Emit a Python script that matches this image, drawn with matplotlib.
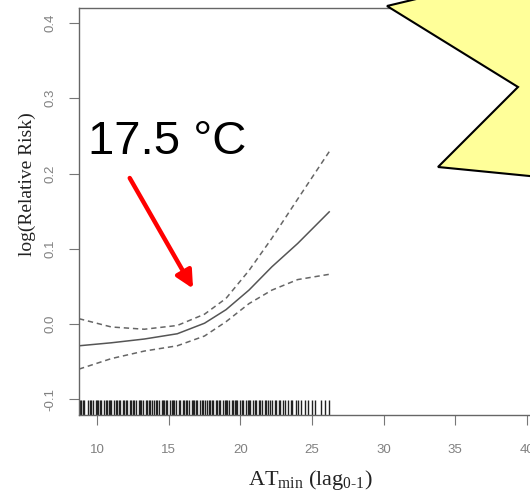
import matplotlib
matplotlib.use("Agg")
import matplotlib.pyplot as plt
from matplotlib.patches import Polygon

# ---- data ----
temp = [8.74, 11.0, 13.3, 15.6, 17.5, 19.0, 20.6, 22.2, 24.0, 26.2]
log_rr = [-0.029, -0.025, -0.020, -0.013, 0.001, 0.019, 0.045, 0.076, 0.107, 0.149]
upper = [0.007, -0.004, -0.007, -0.002, 0.013, 0.034, 0.071, 0.114, 0.166, 0.229]
lower = [-0.060, -0.046, -0.036, -0.029, -0.016, 0.003, 0.027, 0.045, 0.059, 0.066]

rug = [
    8.8, 8.9, 9.0, 9.1, 9.4, 9.5, 9.6, 9.7, 9.9, 10.0, 10.1, 10.2, 10.3, 10.5,
    10.6, 10.7, 10.8, 10.9, 11.0, 11.2, 11.3, 11.4, 11.5, 11.6, 11.8, 11.9,
    12.0, 12.1, 12.3, 12.4, 12.5, 12.6, 12.7, 12.9, 13.0, 13.1, 13.2, 13.4,
    13.5, 13.6, 13.7, 13.8, 14.0, 14.1, 14.2, 14.3, 14.5, 14.6, 14.7, 14.8,
    14.9, 15.1, 15.2, 15.3, 15.4, 15.5, 15.7, 15.8, 16.0, 16.1, 16.2, 16.3,
    16.4, 16.6, 16.7, 16.8, 16.9, 17.0, 17.2, 17.3, 17.4, 17.5, 17.7, 17.8,
    17.9, 18.0, 18.1, 18.3, 18.4, 18.5, 18.6, 18.8, 18.9, 19.0, 19.1, 19.2,
    19.4, 19.5, 19.6, 19.7, 19.8, 20.0, 20.1, 20.2, 20.4, 20.5, 20.6, 20.7,
    20.9, 21.0, 21.1, 21.3, 21.4, 21.5, 21.7, 21.8, 21.9, 22.1, 22.2, 22.4,
    22.5, 22.7, 22.8, 23.0, 23.1, 23.3, 23.5, 23.6, 23.9, 24.0, 24.2, 24.5,
    24.7, 25.0, 25.2, 25.6, 25.9, 26.2,
]

arrow_tail = (12.28, 0.194)
arrow_tip = (16.7, 0.047)
label_pos = (9.35, 0.226)

xticks = [10, 15, 20, 25, 30, 35, 40]
yticks = [-0.1, 0.0, 0.1, 0.2, 0.3, 0.4]

W, H = 530, 496
plt.rcParams["mathtext.fontset"] = "custom"
plt.rcParams["mathtext.rm"] = "Liberation Serif"
plt.rcParams["mathtext.it"] = "Liberation Serif"

fig = plt.figure(figsize=(W / 100, H / 100), dpi=100)
fig.patch.set_facecolor("white")

xlim = (8.74, 42.0)
ylim = (-0.121, 0.42)
px_per_x = 14.33
ax_w = (xlim[1] - xlim[0]) * px_per_x
ax = fig.add_axes([79 / W, (H - 415) / H, ax_w / W, 407 / H])
ax.set_xlim(*xlim)
ax.set_ylim(*ylim)

ax.plot(temp, log_rr, color="#555555", lw=1.1)
ax.plot(temp, upper, color="#666666", lw=1.1, ls=(0, (3.5, 2.5)))
ax.plot(temp, lower, color="#666666", lw=1.1, ls=(0, (3.5, 2.5)))

ax.vlines(rug, 0, 0.036, transform=ax.get_xaxis_transform(),
          color="#222222", lw=1.0)

ax.set_xticks(xticks)
ax.set_yticks(yticks)
ax.set_yticklabels([f"{v:.1f}" for v in yticks], rotation=90, va="center")
ax.tick_params(axis="both", direction="out", length=7, width=0.8,
               color="#777777", labelcolor="#808080", labelsize=9.5,
               labelfontfamily="Liberation Sans")
ax.tick_params(axis="x", pad=14)
ax.tick_params(axis="y", pad=9)
for side in ["left", "bottom", "top", "right"]:
    ax.spines[side].set_color("#666666")
    ax.spines[side].set_linewidth(1.0)

fig.text(27 / W, 1 - 184 / H, "log(Relative Risk)", rotation=90,
         ha="center", va="center", fontsize=14, family="Liberation Serif",
         color="#222222")
fig.text(310 / W, 1 - 485 / H, r"AT$_{\mathrm{min}}$ (lag$_{\text{0-1}}$)",
         ha="center", va="baseline", fontsize=16, family="Liberation Serif",
         color="#222222")

ax.annotate("", xy=arrow_tip, xytext=arrow_tail,
            arrowprops=dict(arrowstyle="-|>", color="#ff0000", lw=3.2,
                            mutation_scale=26, shrinkA=0, shrinkB=0))
ax.text(*label_pos, "17.5 \u00b0C", fontsize=34, family="Liberation Sans",
        color="black", va="baseline", ha="left")

# yellow callout shape, partly off the canvas
star_px = [(433, -5), (387, 6), (518, 87), (438, 167), (560, 179), (560, -5)]
star = Polygon([(x / W, 1 - y / H) for x, y in star_px], closed=True,
               transform=fig.transFigure, facecolor="#ffff99",
               edgecolor="black", lw=1.5, zorder=10)
fig.add_artist(star)

fig.savefig("out.png", dpi=100, facecolor="white")
